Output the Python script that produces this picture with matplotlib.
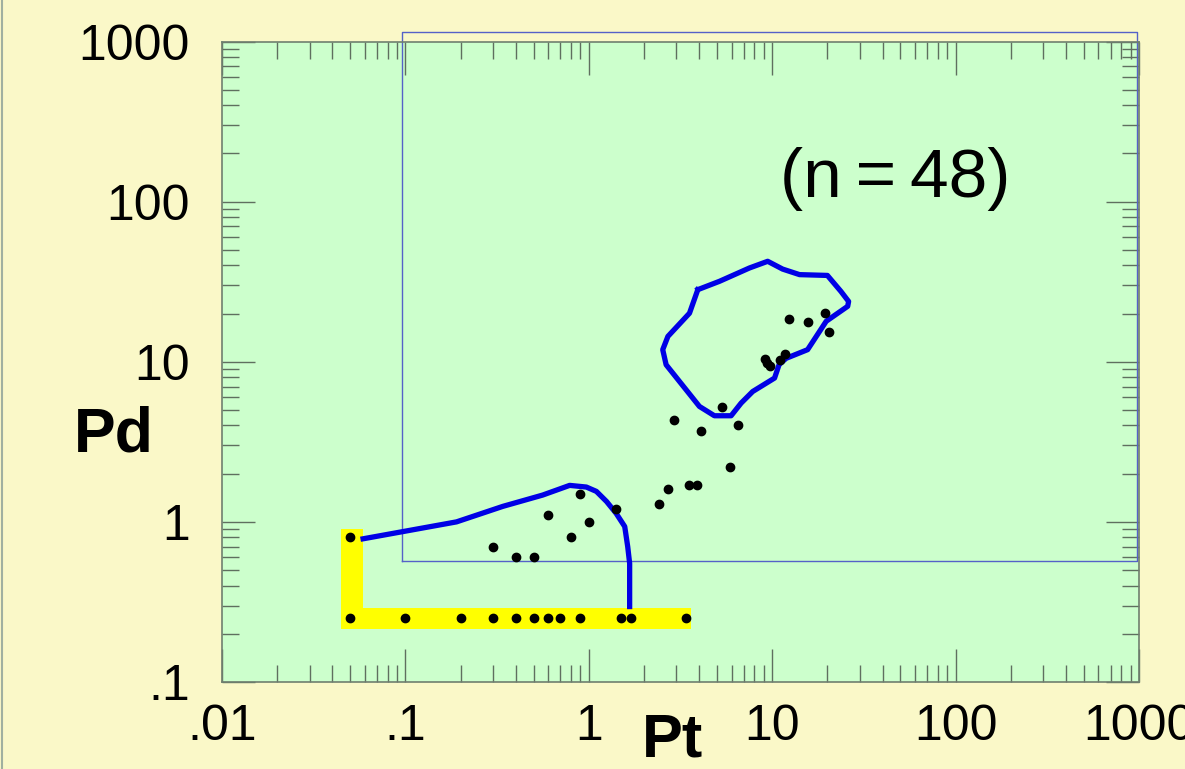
import matplotlib
matplotlib.use("Agg")
import matplotlib.pyplot as plt
from matplotlib.lines import Line2D
from matplotlib.ticker import FixedLocator, LogLocator, NullFormatter

plt.rcParams['font.family'] = ['Liberation Sans', 'DejaVu Sans']

# scatter points (Pt, Pd)
pt = [0.05, 0.1, 0.2, 0.3, 0.4, 0.5, 0.6, 0.7, 0.9, 1.5, 1.7, 3.4,
      0.05,
      0.3, 0.4, 0.5, 0.6, 0.8, 0.9, 1.0, 1.4, 2.4, 2.7, 3.5, 3.9,
      2.9, 4.1, 5.3, 6.5, 5.9,
      9.1, 9.4, 9.7, 11.0, 11.7,
      12.4, 15.7, 19.4, 20.5]
pd_ = [0.25, 0.25, 0.25, 0.25, 0.25, 0.25, 0.25, 0.25, 0.25, 0.25, 0.25, 0.25,
       0.8,
       0.7, 0.6, 0.6, 1.1, 0.8, 1.5, 1.0, 1.2, 1.3, 1.6, 1.7, 1.7,
       4.3, 3.7, 5.2, 4.0, 2.2,
       10.4, 9.8, 9.35, 10.2, 11.2,
       18.4, 17.7, 20.1, 15.3]

# lower blue outline
low_x = [0.0588, 0.19, 0.34, 0.56, 0.786, 0.97, 1.10, 1.25, 1.41, 1.57, 1.63, 1.67, 1.67]
low_y = [0.784, 1.0, 1.25, 1.47, 1.69, 1.65, 1.55, 1.34, 1.13, 0.935, 0.70, 0.55, 0.296]

# upper blue outline (closed)
up_x = [3.93, 5.16, 7.51, 9.45, 11.4, 14.1, 20.0, 23.7, 26.1, 25.8, 19.7, 15.6, 11.9,
        10.9, 10.3, 7.83, 6.77, 5.97, 4.84, 4.01, 2.64, 2.53, 2.70, 3.54, 3.93]
up_y = [28.2, 31.8, 38.5, 42.4, 37.9, 35.0, 34.6, 27.5, 23.8, 22.2, 17.9, 11.9, 10.5,
        9.58, 7.91, 6.52, 5.52, 4.60, 4.60, 5.26, 9.58, 11.9, 14.4, 20.1, 28.2]

# thin blue frame
box_x = [0.0964, 970, 970, 0.0964, 0.0964]
box_y = [0.57, 0.57, 1140, 1140, 0.57]

# yellow L band
band_x = [0.0445, 3.63, 3.63, 0.0584, 0.0584, 0.0445]
band_y = [0.2135, 0.2135, 0.291, 0.291, 0.90, 0.90]

xticks = [0.01, 0.1, 1, 10, 100, 1000]
xlabels = ['.01', '.1', '1', '10', '100', '1000']
yticks = [0.1, 1, 10, 100, 1000]
ylabels = ['.1', '1', '10', '100', '1000']

fig = plt.figure(figsize=(11.85, 7.69), dpi=100)
fig.patch.set_facecolor('#faf8c8')
ax = fig.add_axes([222 / 1185, 87 / 769, 917 / 1185, 640.5 / 769])
ax.set_facecolor('#ccffcc')
ax.set_xscale('log')
ax.set_yscale('log')
ax.set_xlim(0.01, 1000)
ax.set_ylim(0.1, 1000)

ax.fill(band_x, band_y, color='#ffff00', lw=0, zorder=1)
ax.plot(box_x, box_y, color='#5561c8', lw=1.0, clip_on=False, zorder=2)
ax.plot(low_x, low_y, color='#0000e6', lw=3.8, solid_joinstyle='round', zorder=3)
ax.plot(up_x, up_y, color='#0000e6', lw=3.8, solid_joinstyle='round', zorder=3)
ax.plot(pt, pd_, 'o', color='black', ms=6, zorder=4)

ax.text(47, 107, '(n\u2009=\u200948)', fontsize=50, ha='center', va='baseline')

ax.xaxis.set_major_locator(FixedLocator(xticks))
ax.set_xticklabels(xlabels)
ax.yaxis.set_major_locator(FixedLocator(yticks))
ax.set_yticklabels(ylabels)
ax.xaxis.set_minor_locator(LogLocator(base=10, subs=range(2, 10), numticks=20))
ax.yaxis.set_minor_locator(LogLocator(base=10, subs=range(2, 10), numticks=20))
ax.xaxis.set_minor_formatter(NullFormatter())
ax.yaxis.set_minor_formatter(NullFormatter())

ax.tick_params(which='both', direction='in', top=True, right=True,
               color='#5f6f5f', width=1.0, labelsize=36, labelcolor='black')
ax.tick_params(which='major', length=24)
ax.tick_params(which='minor', length=12)
ax.tick_params(axis='y', pad=23)
ax.tick_params(axis='x', pad=16)

for s in ax.spines.values():
    s.set_color('#6f7f6f')
    s.set_linewidth(1.2)

fig.text(114 / 1185, 1 - 451.7 / 769, 'Pd', fontsize=45, fontweight='bold',
         ha='center', va='baseline')
fig.text(672 / 1185, 1 - 756.7 / 769, 'Pt', fontsize=44, fontweight='bold',
         ha='center', va='baseline')

fig.add_artist(Line2D([0.002, 0.002], [0, 1], color='#a0b0a0', lw=1.5,
                      transform=fig.transFigure))

fig.savefig('out.png', dpi=100, facecolor=fig.get_facecolor())
